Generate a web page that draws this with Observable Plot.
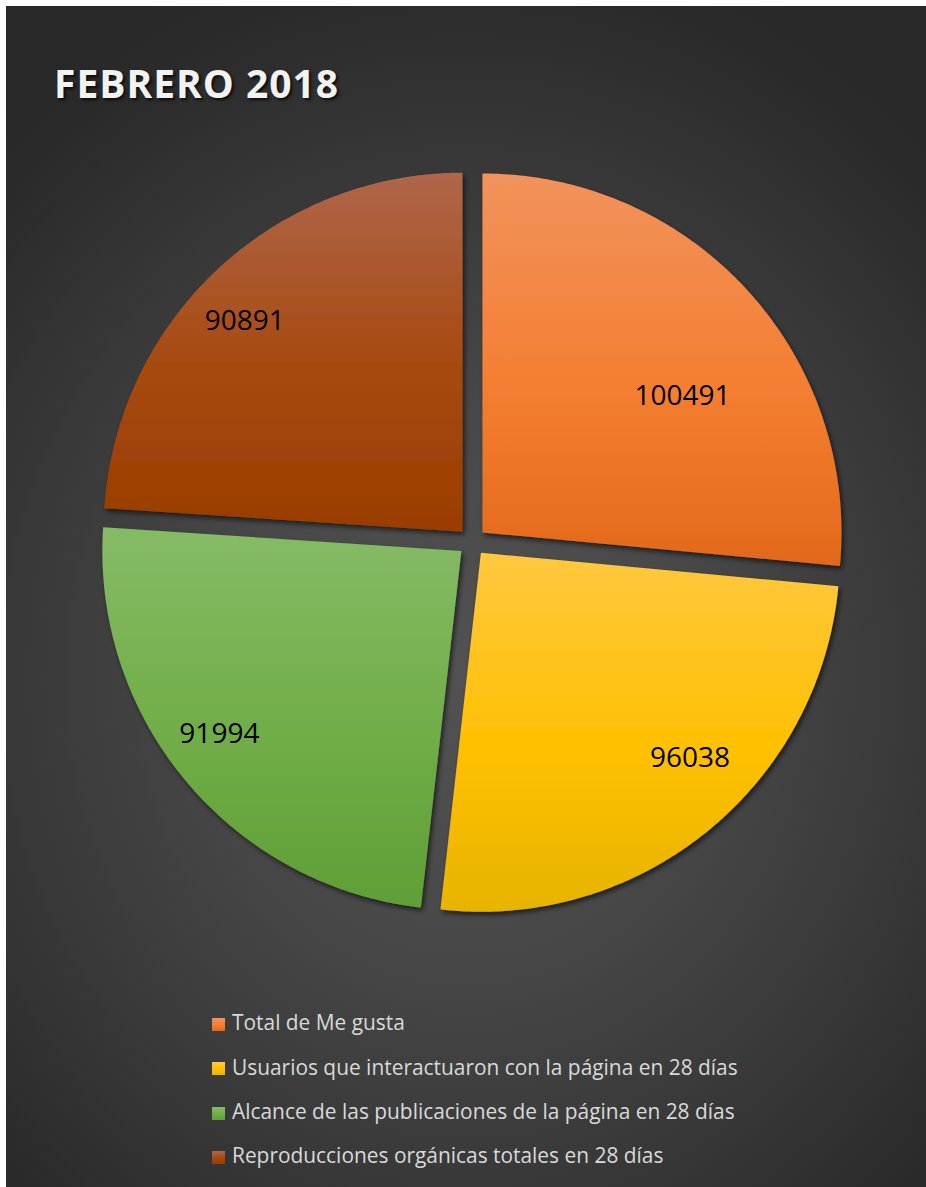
<!DOCTYPE html>
<html>
<head>
<meta charset="utf-8">
<script src="https://cdn.jsdelivr.net/npm/d3@7"></script>
<script src="https://cdn.jsdelivr.net/npm/@observablehq/plot@0.6"></script>
<style>
  html, body { margin: 0; padding: 0; background: #ffffff; width: 926px; height: 1187px; overflow: hidden; }
  #panel {
    position: absolute; left: 6px; top: 6px; width: 920px; height: 1181px; overflow: hidden;
    background: radial-gradient(ellipse 75% 65% at 50% 57%, #525252 0%, #484848 35%, #393939 65%, #2b2b2b 90%, #282828 100%);
  }
  #title {
    position: absolute; left: 48px; top: 57px; margin: 0;
    font-family: "Open Sans", sans-serif; font-weight: 700; font-size: 39px; line-height: 39px;
    letter-spacing: 1.0px; color: #f2f2f2; text-shadow: 2px 2px 3px rgba(0,0,0,0.75); white-space: nowrap;
  }
  #chart { position: absolute; left: 0; top: 134px; }
  #legend { position: absolute; left: 206px; top: 1006.3px; font-family: "Open Sans", sans-serif; font-size: 20.9px; color: #d9d9d9; }
  .row { height: 44.4px; display: flex; align-items: flex-start; white-space: nowrap; }
  .row span.sw { display: inline-block; width: 13px; height: 13px; margin-top: 5.7px; margin-right: 7px; }
  .row span.tx { line-height: 21px; }
</style>
</head>
<body>
<div id="panel">
  <div id="title"></div>
  <div id="chart"></div>
  <div id="legend"></div>
</div>
<script>
// ---- data ----
const titleText = "FEBRERO 2018";
const categories = [
  "Total de Me gusta",
  "Usuarios que interactuaron con la página en 28 días",
  "Alcance de las publicaciones de la página en 28 días",
  "Reproducciones orgánicas totales en 28 días"
];
const values = [100491, 96038, 91994, 90891];

// ---- styles ----
const gradients = [
  ["#f2925c", "#f47e31", "#e2691b"],
  ["#ffc840", "#ffc000", "#e6b400"],
  ["#86bb66", "#70ad47", "#5f9f36"],
  ["#b0664b", "#a6490f", "#9a3d00"]
];
// label placement (angle tweak in degrees from slice bisector, radius fraction)
const labelLayout = [
  {dAngle: 8.1, r: 0.674},
  {dAngle: -6.4, r: 0.817},
  {dAngle: 2.7, r: 0.846},
  {dAngle: -2.9, r: 0.843}
];

const W = 920, H = 800;
const cx = 465.6, cy = 401.4;   // pie centre in svg px
const R = 359, explode = 14;

document.getElementById("title").textContent = titleText;

const pie = d3.pie().sort(null).value(d => d)(values);
const slices = pie.map((p, i) => {
  const mid = (p.startAngle + p.endAngle) / 2;
  const ox = explode * Math.sin(mid), oy = explode * Math.cos(mid);
  const pts = [{x: ox, y: oy}];
  const n = 160;
  for (let k = 0; k <= n; k++) {
    const a = p.startAngle + (p.endAngle - p.startAngle) * k / n;
    pts.push({x: ox + R * Math.sin(a), y: oy + R * Math.cos(a)});
  }
  pts.push({x: ox, y: oy});
  const la = mid + labelLayout[i].dAngle * Math.PI / 180;
  const lr = labelLayout[i].r * R;
  return {pts, label: {x: ox + lr * Math.sin(la), y: oy + lr * Math.cos(la), text: String(values[i])}};
});

const plot = Plot.plot({
  width: W, height: H,
  margin: 0,
  style: {background: "transparent", overflow: "visible"},
  x: {axis: null, domain: [-cx, W - cx]},
  y: {axis: null, domain: [-(H - cy), cy]},
  marks: [
    ...slices.map((s, i) => Plot.line(s.pts, {x: "x", y: "y", fill: gradients[i][1], stroke: "none", curve: "linear"})),
    Plot.text(slices.map(s => s.label), {x: "x", y: "y", text: "text", fill: "#000000", fontSize: 28,
      fontFamily: "Open Sans", textAnchor: "middle", lineAnchor: "middle"})
  ]
});

const svg = d3.select(plot);
const defs = svg.insert("defs", ":first-child");
gradients.forEach((g, i) => {
  const lg = defs.append("linearGradient").attr("id", "grad" + i)
    .attr("x1", 0).attr("y1", 0).attr("x2", 0).attr("y2", 1);
  lg.append("stop").attr("offset", "0%").attr("stop-color", g[0]);
  lg.append("stop").attr("offset", "55%").attr("stop-color", g[1]);
  lg.append("stop").attr("offset", "100%").attr("stop-color", g[2]);
});
const f = defs.append("filter").attr("id", "shadow").attr("x", "-10%").attr("y", "-10%").attr("width", "130%").attr("height", "130%");
f.append("feDropShadow").attr("dx", 2).attr("dy", 3).attr("stdDeviation", 2.5)
  .attr("flood-color", "#000").attr("flood-opacity", 0.6);

svg.selectAll("g[aria-label='line']").each(function(_, i) {
  d3.select(this).selectAll("path").attr("fill", `url(#grad${i})`).attr("filter", "url(#shadow)");
});

document.getElementById("chart").appendChild(plot);

const legend = d3.select("#legend");
categories.forEach((c, i) => {
  const row = legend.append("div").attr("class", "row");
  row.append("span").attr("class", "sw")
    .style("background", `linear-gradient(${gradients[i][0]}, ${gradients[i][1]} 55%, ${gradients[i][2]})`);
  row.append("span").attr("class", "tx").text(c);
});
</script>
</body>
</html>
